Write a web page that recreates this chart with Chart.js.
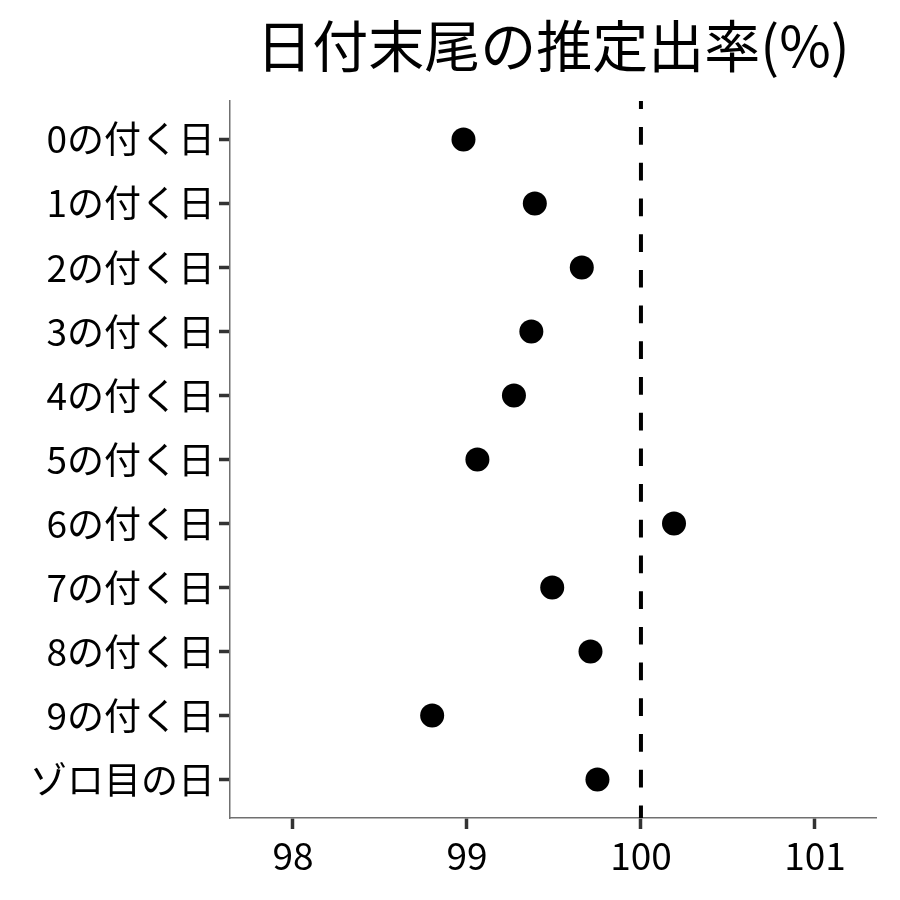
<!DOCTYPE html>
<html lang="ja">
<head>
<meta charset="UTF-8" />
<title>日付末尾の推定出率</title>
<script src="https://cdn.jsdelivr.net/npm/chart.js@4"></script>
<style>
  html, body { margin: 0; padding: 0; background: #fff; }
</style>
</head>
<body>
<canvas id="myChartDot" width="900" height="900"></canvas>
<script>
// dados
const categorias = ["0の付く日", "1の付く日", "2の付く日", "3の付く日", "4の付く日",
  "5の付く日", "6の付く日", "7の付く日", "8の付く日", "9の付く日", "ゾロ目の日"];
const taxas = [98.98, 99.39, 99.66, 99.37, 99.27, 99.06, 100.19, 99.49, 99.71, 98.80, 99.75];
const ticksX = [98, 99, 100, 101];
const linhaRef = 100;
const titulo = "日付末尾の推定出率(%)";

const fonte = '"Noto Sans CJK JP", "Noto Sans", sans-serif';

// título centralizado sobre a área do gráfico
const tituloPlugin = {
  id: "tituloArea",
  afterDraw(chart) {
    const ctx = chart.ctx;
    const area = chart.chartArea;
    ctx.save();
    ctx.font = "56px " + fonte;
    ctx.fillStyle = "#000";
    ctx.textAlign = "center";
    ctx.textBaseline = "middle";
    ctx.fillText(titulo, (area.left + area.right) / 2, 46);
    ctx.restore();
  }
};

const pontos = taxas.map((v, i) => ({ x: v, y: i }));
const yMin = -0.6;
const yMax = categorias.length - 1 + 0.6;

const config = {
  type: "scatter",
  data: {
    datasets: [
      {
        label: "taxa",
        data: pontos,
        backgroundColor: "#000",
        borderWidth: 0,
        pointRadius: 12,
        pointHoverRadius: 12
      },
      {
        type: "line",
        label: "100",
        data: [{ x: linhaRef, y: yMin }, { x: linhaRef, y: yMax }],
        borderColor: "#000",
        borderWidth: 4,
        borderDash: [17.7, 18],
        borderDashOffset: 9.6,
        pointRadius: 0,
        fill: false
      }
    ]
  },
  options: {
    responsive: false,
    animation: false,
    layout: { padding: { top: 101, right: 24, left: 0, bottom: 0 } },
    plugins: {
      legend: { display: false },
      tooltip: { enabled: false },
      title: { display: false }
    },
    scales: {
      x: {
        type: "linear",
        min: 97.638,
        max: 101.351,
        afterBuildTicks: (scale) => { scale.ticks = ticksX.map(v => ({ value: v })); },
        afterFit: (scale) => { scale.height = 82; },
        grid: { drawOnChartArea: false, drawTicks: true, tickLength: 11, tickWidth: 3.5, tickColor: "#333" },
        border: { display: true, color: "#707070", width: 1.5 },
        ticks: { color: "#000", padding: 5, font: { family: fonte, size: 37 } }
      },
      y: {
        type: "linear",
        reverse: true,
        min: yMin,
        max: yMax,
        afterBuildTicks: (scale) => { scale.ticks = categorias.map((c, i) => ({ value: i })); },
        afterFit: (scale) => { scale.width = 230; },
        grid: { drawOnChartArea: false, drawTicks: true, tickLength: 11, tickWidth: 3.5, tickColor: "#333" },
        border: { display: true, color: "#707070", width: 1.5 },
        ticks: {
          color: "#000",
          padding: 4,
          font: { family: fonte, size: 37 },
          callback: (v) => categorias[v]
        }
      }
    }
  },
  plugins: [tituloPlugin]
};

var myChartDot = new Chart(document.getElementById("myChartDot"), config);
</script>
</body>
</html>
